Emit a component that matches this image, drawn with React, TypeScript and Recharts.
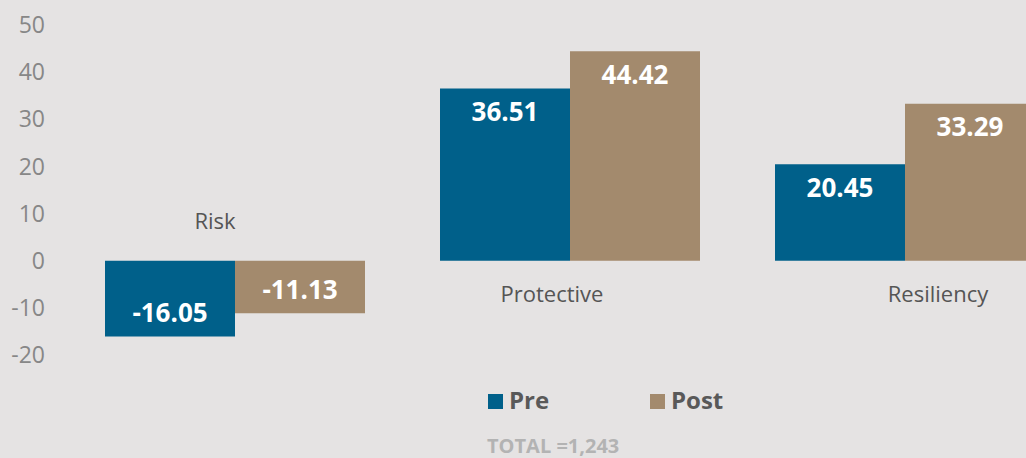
import React from "react";
import { BarChart, Bar, XAxis, YAxis, LabelList, ReferenceLine, Legend } from "recharts";

const categories = ["Risk", "Protective", "Resiliency"];
const preValues = [-16.05, 36.51, 20.45];
const postValues = [-11.13, 44.42, 33.29];
const yTicks = [-20, -10, 0, 10, 20, 30, 40, 50];
const seriesOrder = ["Pre", "Post"];
const totalLabel = "TOTAL =1,243";

const data = categories.map((name, i) => ({ name, Pre: preValues[i], Post: postValues[i] }));

const FONT = "'Open Sans', 'Noto Sans', sans-serif";
const PRE_COLOR = "#00608a";
const POST_COLOR = "#a38a6d";
const BG = "#e5e3e3";

// label offsets relative to category center / zero line (style only)
const labelDx = [-20, -18, 33];
const labelDy = [-32, 41, 41];

const CategoryLabels = (props: any) => {
  const vb = props.viewBox || {};
  const n = categories.length;
  return (
    <g>
      {categories.map((c, i) => (
        <text
          key={c}
          x={vb.x + (vb.width * (i + 0.5)) / n + labelDx[i]}
          y={vb.y + labelDy[i]}
          textAnchor="middle"
          fontFamily={FONT}
          fontSize={22}
          fill="#555555"
        >
          {c}
        </text>
      ))}
    </g>
  );
};

const LegendContent = (props: any) => {
  const payload = [...(props.payload || [])].sort(
    (a: any, b: any) => seriesOrder.indexOf(a.value) - seriesOrder.indexOf(b.value)
  );
  return (
    <div style={{ position: "relative", width: 1026, height: 0, fontFamily: FONT }}>
      {payload.map((p: any, i: number) => (
        <div
          key={p.value}
          style={{
            position: "absolute",
            left: 488 + i * 162,
            top: 385,
            display: "flex",
            alignItems: "flex-start",
            lineHeight: "30px",
            fontSize: 24,
            fontWeight: 700,
            color: "#595959",
            whiteSpace: "nowrap",
          }}
        >
          <span style={{ display: "inline-block", width: 15, height: 15, background: p.color, marginTop: 9, marginRight: 6 }} />
          <span>{p.value}</span>
        </div>
      ))}
      <div
        style={{
          position: "absolute",
          left: 487,
          top: 436,
          lineHeight: "20px",
          fontSize: 20,
          fontWeight: 700,
          color: "#b3b3b3",
          whiteSpace: "nowrap",
        }}
      >
        {totalLabel}
      </div>
    </div>
  );
};

export default function App() {
  return (
    <div
      style={{
        position: "absolute",
        left: 0,
        top: 0,
        width: 1026,
        height: 458,
        overflow: "hidden",
        background: BG,
        fontFamily: FONT,
      }}
    >
      <BarChart
        width={1080}
        height={458}
        data={data}
        margin={{ top: 25, right: 7.5, left: 0, bottom: 103 }}
        barCategoryGap={37.5}
        barGap={0}
      >
        <XAxis dataKey="name" hide />
        <YAxis
          type="number"
          domain={[-20, 50]}
          ticks={yTicks}
          interval={0}
          width={67.5}
          axisLine={false}
          tickLine={false}
          tickSize={0}
          tickMargin={22.5}
          tick={{ fill: "#878787", fontSize: 23, fontFamily: FONT }}
        />
        <Legend
          content={<LegendContent />}
          wrapperStyle={{ top: 0, left: 0, bottom: "auto", width: 1026, height: 0 }}
        />
        <Bar dataKey="Pre" name="Pre" fill={PRE_COLOR} isAnimationActive={false}>
          <LabelList
            dataKey="Pre"
            position="insideTop"
            offset={14}
            fill="#ffffff"
            fontSize={26}
            fontWeight={700}
            fontFamily={FONT}
          />
        </Bar>
        <Bar dataKey="Post" name="Post" fill={POST_COLOR} isAnimationActive={false}>
          <LabelList
            dataKey="Post"
            position="insideTop"
            offset={14}
            fill="#ffffff"
            fontSize={26}
            fontWeight={700}
            fontFamily={FONT}
          />
        </Bar>
        <ReferenceLine y={0} stroke="none" label={(p: any) => <CategoryLabels {...p} />} />
      </BarChart>
    </div>
  );
}
